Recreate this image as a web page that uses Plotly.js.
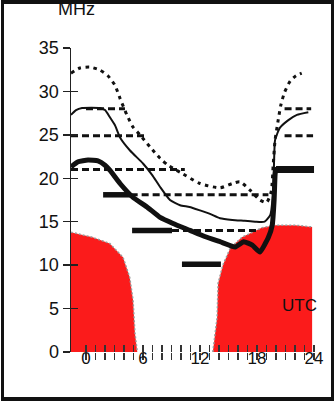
<!DOCTYPE html>
<html>
<head>
<meta charset="utf-8">
<script src="https://cdn.plot.ly/plotly-3.0.1.min.js"></script>
<style>
  html, body { margin: 0; padding: 0; background: #fff; }
  #wrap { position: relative; width: 335px; height: 402px; overflow: hidden; }
  #chart { position: absolute; left: 0; top: 0; width: 335px; height: 402px; }
  #frame { position: absolute; left: 1px; top: 0px; width: 333px; height: 401px;
           box-sizing: border-box; border: 3px solid #111; border-top-width: 4px;
           border-bottom-width: 4px; pointer-events: none; }
</style>
</head>
<body>
<div id="wrap"><div id="chart"></div><div id="frame"></div></div>
<script>
// ---- data (hours UTC, MHz) ----
const hourTicks  = [0,1,2,3,4,5,6,7,8,9,10,11,12,13,14,15,16,17,18,19,20,21,22,23,24];
const hourLabels = ["0","","","","","","6","","","","","","12","","","","","","18","","","","","","24"];
const mhzTicks   = [0,5,10,15,20,25,30,35];

// upper (dotted) curve
const upperH = [-1.58,-0.63,0.42,1.47,2.3,3.05,3.58,4.3,4.95,5.68,6.74,7.8,8.63,9.9,12.0,14.1,15.4,16.2,17.3,18.3,19.0,19.5,19.7,19.9,20.2,20.5,20.9,21.5,22.1,22.7];
const upperF = [32.1,32.7,32.8,32.45,31.8,30.7,29.2,27.3,25.9,25.0,23.6,22.3,21.5,20.7,19.4,18.9,19.4,19.6,18.6,17.5,17.2,18.5,21.5,24.4,26.5,28.4,29.9,31.2,31.8,32.1];

// middle (thin solid) curve
const midH = [-1.58,-1.05,-0.42,1.47,2.0,2.53,3.05,3.58,4.63,6.0,6.95,7.8,8.84,9.9,10.9,12.0,13.05,14.1,15.4,16.7,17.8,18.8,19.4,19.7,19.8,19.9,20.4,21.3,22.2,23.4];
const midF = [27.3,27.85,28.1,28.1,27.85,27.0,26.1,24.7,23.2,21.7,20.4,19.0,17.5,16.9,16.7,16.3,15.9,15.4,15.2,15.1,15.0,15.0,15.8,18.6,22.1,24.4,25.8,26.7,27.3,27.6];

// lower (thick solid) curve
const lowH = [-1.58,-0.84,0.21,1.26,2.0,2.53,3.58,4.95,6.42,7.8,9.16,10.95,12.5,14.1,15.7,16.6,17.5,18.3,19.2,19.6,19.8,19.9,20.0];
const lowF = [21.3,21.9,22.1,22.0,21.5,20.9,19.4,17.8,16.7,15.5,14.8,14.0,13.3,12.7,12.1,12.7,12.3,11.5,13.2,14.6,17.5,20.4,21.3];

// red areas
const redAH = [-1.58,0.7,2.5,3.9,4.6,4.95,5.15,5.4];
const redAF = [13.8,13.2,12.5,10.9,8.6,6.0,2.2,0];
const redBH = [13.35,13.8,13.9,14.4,15.2,16.4,18.5,19.9,22.0,23.8];
const redBF = [0,4.0,7.9,10.0,12.0,13.2,14.3,14.6,14.6,14.4];

// band lines: marginal (dashed) segments
const margBand = [28,28,24.9,24.9,21,18.1,14];
const margFrom = [0,20.9,-1.58,20.9,-1.58,4.7,9.05];
const margTo   = [4.1,23.7,6.2,23.9,10.4,19.2,18.0];
// band lines: open (solid) segments
const openBand = [18.1,14,10.1];
const openFrom = [1.8,4.85,10.1];
const openTo   = [4.7,9.05,14.2];
const strongBand = [21];
const strongFrom = [20.0];
const strongTo   = [24.0];

function segs(b, f, t) {
  const x = [], y = [];
  for (let i = 0; i < b.length; i++) { x.push(f[i], t[i], null); y.push(b[i], b[i], null); }
  return {x, y};
}

const INK = '#111';
const FONT = 'Liberation Sans, Arial, sans-serif';
const m = segs(margBand, margFrom, margTo);
const o = segs(openBand, openFrom, openTo);
const s = segs(strongBand, strongFrom, strongTo);

const traces = [
  {x: redAH, y: redAF, mode: 'lines', fill: 'tozeroy', fillcolor: '#fb1b1b',
   line: {color: '#9a9a9a', width: 1.5, dash: '2px,2px'}, hoverinfo: 'skip'},
  {x: redBH, y: redBF, mode: 'lines', fill: 'tozeroy', fillcolor: '#fb1b1b',
   line: {color: '#9a9a9a', width: 1.5, dash: '2px,2px'}, hoverinfo: 'skip'},
  {x: m.x, y: m.y, mode: 'lines', line: {color: INK, width: 3, dash: '7px,4px'}},
  {x: o.x, y: o.y, mode: 'lines', line: {color: INK, width: 5.5}},
  {x: s.x, y: s.y, mode: 'lines', line: {color: INK, width: 7}},
  {x: upperH, y: upperF, mode: 'lines', line: {color: INK, width: 3, dash: '3.5px,4.5px', shape: 'spline', smoothing: 0.6}},
  {x: midH, y: midF, mode: 'lines', line: {color: INK, width: 2, shape: 'spline', smoothing: 0.5}},
  {x: lowH, y: lowF, mode: 'lines', line: {color: INK, width: 5, shape: 'spline', smoothing: 0.4}},
  {x: [], y: [], xaxis: 'x2', yaxis: 'y2', mode: 'lines'}
];

const xr = [-1.58, 24.84], yr = [0, 35];
const layout = {
  width: 335, height: 402,
  margin: {l: 71, r: 13, t: 48, b: 50},
  paper_bgcolor: '#fff', plot_bgcolor: '#fff',
  showlegend: false,
  font: {family: FONT, color: INK},
  xaxis: {range: xr, showgrid: false, zeroline: false, showline: false,
          tickmode: 'array', tickvals: hourTicks, ticktext: hourLabels,
          ticks: 'outside', ticklen: 7, tickwidth: 1.2, tickcolor: '#333',
          ticklabelstandoff: -16,
          tickfont: {family: FONT, size: 17, color: INK}},
  yaxis: {range: yr, showgrid: false, zeroline: false, showline: true,
          linecolor: '#222', linewidth: 1.5,
          tickmode: 'array', tickvals: mhzTicks,
          ticks: 'outside', ticklen: 7, tickwidth: 1.5, tickcolor: '#222',
          tickfont: {family: FONT, size: 18, color: INK}},
  xaxis2: {range: xr, overlaying: 'x', anchor: 'y2', showgrid: false, zeroline: false,
           showline: false, tickmode: 'array', tickvals: hourTicks, showticklabels: false,
           ticks: 'inside', ticklen: 7, tickwidth: 1.2, tickcolor: '#333'},
  yaxis2: {range: yr, overlaying: 'y', anchor: 'x2', showgrid: false, zeroline: false,
           showline: false, tickmode: 'array', tickvals: mhzTicks, showticklabels: false,
           ticks: 'inside', ticklen: 7, tickwidth: 1.5, tickcolor: '#222'},
  annotations: [
    {text: 'MHz', xref: 'paper', yref: 'paper', x: (76 - 71) / 251, y: (352 + 3) / 304,
     xanchor: 'center', yanchor: 'top', showarrow: false,
     font: {family: FONT, size: 18, color: INK}},
    {text: 'UTC', xref: 'x', yref: 'y', x: 22.5, y: 5.4, xanchor: 'center', yanchor: 'middle',
     showarrow: false, font: {family: FONT, size: 17, color: INK}}
  ]
};

Plotly.newPlot('chart', traces, layout, {displayModeBar: false, staticPlot: true});
</script>
</body>
</html>
